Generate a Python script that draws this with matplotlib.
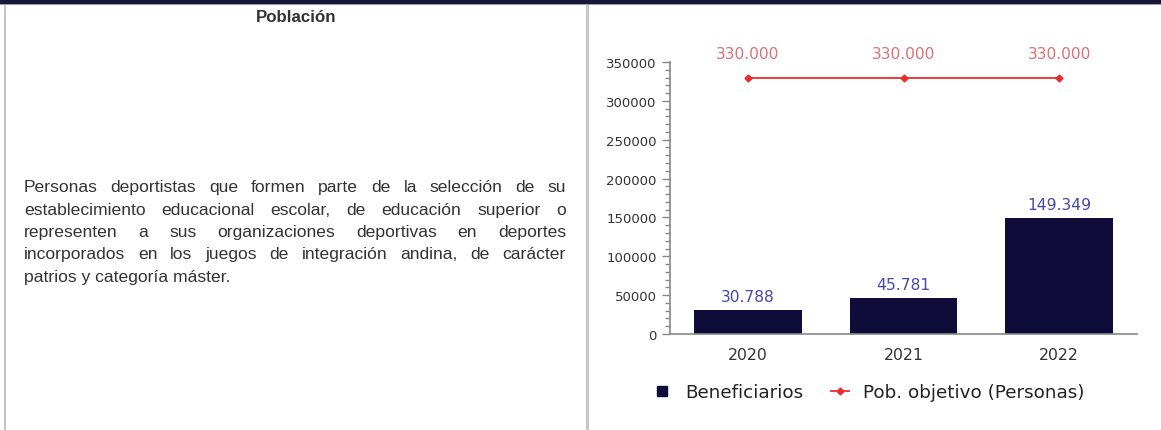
import matplotlib
matplotlib.use('Agg')
import matplotlib.pyplot as plt
from matplotlib.lines import Line2D
from matplotlib.patches import Rectangle

plt.rcParams['font.family'] = ['DejaVu Sans']

# Data
years = ['2020', '2021', '2022']
beneficiarios = [30788, 45781, 149349]
pob_objetivo = [330000, 330000, 330000]
ben_labels = ['30.788', '45.781', '149.349']
pob_labels = ['330.000', '330.000', '330.000']

titulo = 'Población'
lineas = [
    'Personas deportistas que formen parte de la selección de su',
    'establecimiento educacional escolar, de educación superior o',
    'representen a sus organizaciones deportivas en deportes',
    'incorporados en los juegos de integración andina, de carácter',
    'patrios y categoría máster.',
]

navy = '#100c3a'
red = '#ee2b2b'
W, H = 1161, 431
fig = plt.figure(figsize=(W / 100, H / 100), dpi=100)

# table frame
fig.add_artist(Rectangle((0, 1 - 5 / H), 1, 5 / H, transform=fig.transFigure,
                         color='#17173a', lw=0))
fig.add_artist(Rectangle((0, 1 - 6 / H), 1, 1 / H, transform=fig.transFigure,
                         color='#9a9aa8', lw=0))
fig.add_artist(Rectangle((4 / W, 0), 2 / W, 1 - 6 / H, transform=fig.transFigure,
                         color='#c4c4c4', lw=0))
fig.add_artist(Rectangle((586 / W, 0), 3 / W, 1 - 6 / H, transform=fig.transFigure,
                         color='#c8c8c8', lw=0))

# left panel text
fig.text(296 / W, 1 - 17 / H, titulo, family='Liberation Sans', weight='bold',
         fontsize=12.2, color='#333333', ha='center', va='center')

renderer = fig.canvas.get_renderer()
x0, x1 = 24, 566
y_first, dy = 188, 22.3
for i, linea in enumerate(lineas):
    y = 1 - (y_first + i * dy) / H
    words = linea.split(' ')
    if i == len(lineas) - 1:
        fig.text(x0 / W, y, linea, family='Liberation Sans', fontsize=12.6,
                 color='#333333', ha='left', va='center')
        continue
    texts = [fig.text(0, y, w, family='Liberation Sans', fontsize=12.6,
                      color='#333333', ha='left', va='center') for w in words]
    widths = [t.get_window_extent(renderer).width for t in texts]
    gap = (x1 - x0 - sum(widths)) / (len(words) - 1)
    x = x0
    for t, w in zip(texts, widths):
        t.set_x(x / W)
        x += w + gap

# chart
ax = fig.add_axes([670 / W, (H - 335) / H, (1137 - 670) / W, (335 - 63) / H])
xs = list(range(len(years)))
ax.bar(xs, beneficiarios, width=0.69, color=navy, zorder=2)
ax.plot(xs, pob_objetivo, color=red, lw=1.3, marker='D', ms=3.5, zorder=3)

for x, v, lab in zip(xs, beneficiarios, ben_labels):
    ax.annotate(lab, (x, v), xytext=(0, 10), textcoords='offset points',
                ha='center', va='center', color='#4848a6', fontsize=11.2)
for x, v, lab in zip(xs, pob_objetivo, pob_labels):
    ax.annotate(lab, (x, v), xytext=(0, 17.5), textcoords='offset points',
                ha='center', va='center', color='#d9727a', fontsize=11.2)

ax.set_xlim(-0.5, 2.5)
ax.set_ylim(0, 350000)
ax.set_xticks(xs)
ax.set_xticklabels(years, fontsize=11.3, color='#333333')
ax.set_yticks(range(0, 350001, 50000))
ax.set_yticks(range(0, 350001, 10000), minor=True)
ax.tick_params(axis='y', which='major', length=6, width=1, color='#888888',
               labelsize=9.5, labelcolor='#333333', pad=3.5)
ax.tick_params(axis='y', which='minor', length=3.6, width=1, color='#888888')
ax.tick_params(axis='x', length=0, pad=9.5)
for s in ['top', 'right']:
    ax.spines[s].set_visible(False)
for s in ['left', 'bottom']:
    ax.spines[s].set_color('#888888')
    ax.spines[s].set_linewidth(1.2)

handles = [Line2D([], [], marker='s', ls='none', color=navy, ms=7),
           Line2D([], [], color=red, lw=1.3, marker='D', ms=3.5)]
fig.legend(handles, ['Beneficiarios', 'Pob. objetivo (Personas)'],
           loc='center', bbox_to_anchor=(868.5 / W, 1 - 393 / H), ncol=2,
           frameon=False, fontsize=13.2, handlelength=1.0, handletextpad=0.75,
           columnspacing=1.5, labelcolor='#222222')

fig.savefig('out.png', dpi=100)
